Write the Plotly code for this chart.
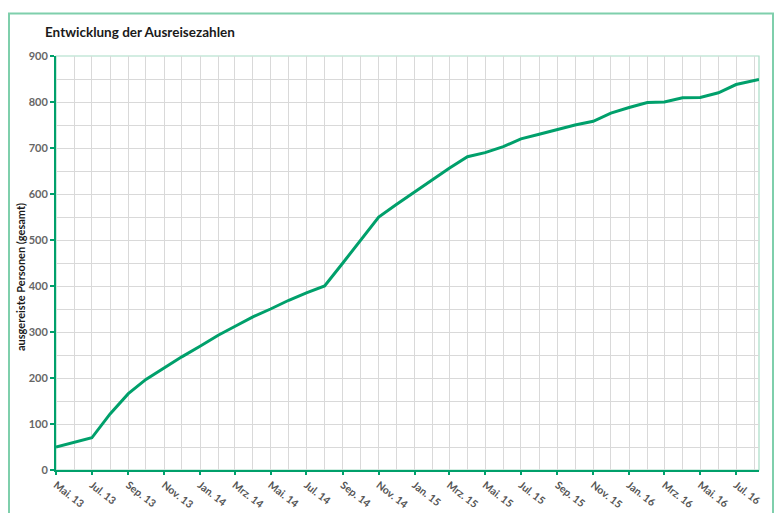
import plotly.graph_objects as go

# Cumulative number of departed persons, monthly counts
dates = [
    "2013-05-01", "2013-06-01", "2013-07-01", "2013-08-01", "2013-09-01", "2013-10-01",
    "2013-11-01", "2013-12-01", "2014-01-01", "2014-02-01", "2014-03-01", "2014-04-01",
    "2014-05-01", "2014-06-01", "2014-07-01", "2014-08-01", "2014-09-01", "2014-10-01",
    "2014-11-01", "2014-12-01", "2015-01-01", "2015-02-01", "2015-03-01", "2015-04-01",
    "2015-05-01", "2015-06-01", "2015-07-01", "2015-08-01", "2015-09-01", "2015-10-01",
    "2015-11-01", "2015-12-01", "2016-01-01", "2016-02-01", "2016-03-01", "2016-04-01",
    "2016-05-01", "2016-06-01", "2016-07-01", "2016-08-09",
]
persons = [
    50, 60, 70, 122, 166, 197,
    222, 246, 269, 293, 312, 333,
    350, 369, 385, 400, 450, 500,
    550, 577, 604, 631, 656, 681,
    690, 703, 720, 730, 741, 750,
    758, 776, 788, 799, 800, 809,
    810, 820, 838, 849,
]

tick_dates = [
    "2013-05-01", "2013-07-01", "2013-09-01", "2013-11-01", "2014-01-01", "2014-03-01",
    "2014-05-01", "2014-07-01", "2014-09-01", "2014-11-01", "2015-01-01", "2015-03-01",
    "2015-05-01", "2015-07-01", "2015-09-01", "2015-11-01", "2016-01-01", "2016-03-01",
    "2016-05-01", "2016-07-01",
]
tick_labels = [
    "Mai. 13", "Jul. 13", "Sep. 13", "Nov. 13", "Jan. 14", "Mrz. 14",
    "Mai. 14", "Jul. 14", "Sep. 14", "Nov. 14", "Jan. 15", "Mrz. 15",
    "Mai. 15", "Jul. 15", "Sep. 15", "Nov. 15", "Jan. 16", "Mrz. 16",
    "Mai. 16", "Jul. 16",
]

GREEN = "#00A06B"
GRID = "#d9d9d9"
FONT = "Lato"

fig = go.Figure(
    go.Scatter(
        x=dates, y=persons, mode="lines",
        line=dict(color=GREEN, width=3),
        hoverinfo="x+y",
    )
)

fig.update_layout(
    width=779, height=513,
    margin=dict(l=56, r=20, t=55.5, b=42.5),
    paper_bgcolor="white", plot_bgcolor="white",
    showlegend=False,
    font=dict(family=FONT, color="#404040"),
    title=dict(
        text="<b>Entwicklung der Ausreisezahlen</b>",
        x=45 / 779, xanchor="left", xref="container",
        y=1 - 32 / 513, yanchor="middle", yref="container",
        font=dict(size=13.5, color="#1a1a1a", family=FONT),
    ),
)

fig.update_xaxes(
    range=["2013-05-01", "2016-08-09"],
    automargin=False,
    tickvals=tick_dates, ticktext=["<b>%s</b>" % t for t in tick_labels],
    tickangle=38,
    tickfont=dict(size=10.5, color="#555555", family=FONT),
    ticks="outside", ticklen=3, tickcolor=GREEN, tickwidth=1.5,
    showline=True, linecolor=GREEN, linewidth=2,
    showgrid=True, gridcolor=GRID, gridwidth=1,
    minor=dict(dtick="M1", tick0="2013-05-01", showgrid=True,
               gridcolor=GRID, gridwidth=1),
    zeroline=False,
)

fig.update_yaxes(
    range=[0, 900],
    automargin=False,
    dtick=100,
    tickprefix="<b>", ticksuffix="</b>",
    tickfont=dict(size=11, color="#666666", family=FONT),
    ticks="outside", ticklen=4, tickcolor=GREEN, tickwidth=1.5,
    showline=True, linecolor=GREEN, linewidth=2,
    showgrid=True, gridcolor=GRID, gridwidth=1,
    minor=dict(dtick=50, showgrid=True, gridcolor=GRID, gridwidth=1),
    zeroline=False,
)

# plot-area border (top and right edges) and outer chart frame
fig.add_shape(type="rect", xref="paper", yref="paper", x0=0, x1=1, y0=0, y1=1,
              line=dict(color="#a8dcc6", width=1.2), layer="below")
fig.add_shape(type="rect", xref="paper", yref="paper",
              x0=(9 - 56) / 703, x1=(773 - 56) / 703,
              y0=-0.2, y1=(470.5 - 13) / 415,
              line=dict(color="#7fcfac", width=2), layer="below")

fig.add_annotation(
    text="<b>ausgereiste Personen (gesamt)</b>",
    xref="paper", yref="paper",
    x=(21 - 56) / 703, y=(470.5 - 277) / 415,
    textangle=-90, showarrow=False,
    xanchor="center", yanchor="middle",
    font=dict(size=11, color="#1a1a1a", family=FONT),
)

fig.write_html("out.html")
